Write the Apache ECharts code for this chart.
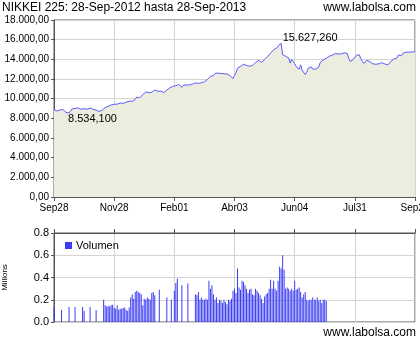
<!DOCTYPE html>
<html><head><meta charset="utf-8">
<script src="https://cdn.jsdelivr.net/npm/echarts@6/dist/echarts.min.js"></script>
<style>html,body{margin:0;padding:0;background:#fff}#c{width:420px;height:340px}</style>
</head><body><div id="c"></div>
<script>
const titleText = 'NIKKEI 225: 28-Sep-2012 hasta 28-Sep-2013';
const siteText = 'www.labolsa.com';
const xTickLabels = ['Sep28', 'Nov28', 'Feb01', 'Abr03', 'Jun04', 'Jul31', 'Sep26'];
const yMax = 18000;
const price = [
8870, 8796, 8746, 8824, 8850, 8863, 8900, 8769, 8596, 8534.1,
8546, 8701, 8950, 8982, 9002, 9010, 9055, 9040, 8933, 9014,
8981, 8940, 8928, 8975, 9040, 8947, 8917, 8840, 8837, 8784,
8701, 8664, 8829, 9024, 9100, 9142, 9222, 9370, 9366, 9458,
9423, 9440, 9446, 9534, 9545, 9490, 9527, 9600, 9640, 9715,
9742, 9724, 9737, 9830, 9923, 10161, 10039, 10100, 10230, 10395,
10395, 10688, 10600, 10609, 10578, 10652, 10840, 10880, 10750, 10750,
10800, 10770, 10710, 10620, 10600, 10870, 10930, 11100, 11190, 11260,
11460, 11310, 11370, 11440, 11380, 11150, 11370, 11300, 11400, 11340,
11390, 11410, 11470, 11530, 11600, 11680, 11560, 11440, 11610, 11650,
11730, 11840, 11940, 12120, 12280, 12370, 12350, 12560, 12380, 12600,
12470, 12560, 12470, 12530, 12440, 12510, 12470, 12340, 12200, 12040,
12360, 12630, 13100, 13190, 13290, 13490, 13500, 13480, 13380, 13220,
13300, 13270, 13380, 13570, 13690, 13840, 13880, 13780, 13690, 13700,
13980, 14180, 14290, 14440, 14620, 14780, 14970, 15090, 15140, 15370,
15380, 15627.26, 14480, 14600, 14310, 14270, 14140, 13620, 13980, 13770,
13560, 13260, 13100, 13010, 13440, 12900, 12880, 12445, 12690, 13100,
13010, 13230, 13010, 13170, 13010, 12840, 13210, 13680, 13850, 13940,
14110, 14100, 14300, 14310, 14440, 14420, 14470, 14590, 14510, 14540,
14620, 14560, 14730, 14660, 14770, 14590, 14050, 13770, 13660, 14000,
14000, 14400, 14340, 14470, 14050, 13820, 13600, 13620, 13900, 13940,
13750, 13650, 13540, 13620, 13500, 13390, 13540, 13600, 13660, 13640,
13520, 13390, 13440, 13570, 13800, 13990, 14040, 13860, 14130, 14440,
14410, 14380, 14620, 14580, 14730, 14700, 14720, 14690, 14760, 14800,
14760
];
const volume = [
0.135, null, null, null, null, 0.11, null, null, null, null,
0.135, null, null, null, 0.135, null, null, null, null, 0.135,
0.10, null, null, null, 0.135, null, null, null, 0.105, null,
null, null, null, 0.2, 0.15, 0.14, 0.145, 0.14, 0.15, 0.155,
0.13, 0.12, 0.15, 0.11, 0.12, 0.12, 0.125, 0.13, 0.11, 0.1,
0.13, 0.22, 0.25, 0.21, 0.27, 0.28, 0.27, 0.26, 0.25, 0.15,
0.21, 0.2, 0.22, 0.21, 0.2, 0.26, 0.27, 0.24, null, null,
0.29, null, null, null, null, 0.22, null, null, 0.2, null,
0.28, 0.35, 0.39, null, null, 0.33, null, null, null, 0.345,
null, null, null, null, 0.25, 0.24, 0.27, 0.2, 0.22, 0.2,
0.2, 0.21, 0.2, 0.37, 0.3, 0.33, 0.25, 0.2, 0.22, 0.17,
0.2, 0.19, 0.17, 0.2, 0.18, 0.16, 0.2, 0.19, 0.21, 0.28,
0.3, 0.26, 0.48, 0.31, 0.29, 0.37, 0.36, 0.33, 0.3, 0.26,
0.29, 0.3, 0.25, 0.24, 0.3, 0.28, 0.26, 0.24, 0.21, 0.17,
0.23, 0.25, 0.26, 0.3, 0.38, 0.3, 0.37, 0.3, 0.28, 0.37,
0.5, 0.48, 0.6, 0.47, 0.3, 0.31, 0.3, 0.28, 0.3, 0.28,
0.37, 0.29, 0.3, 0.31, 0.27, 0.22, 0.25, 0.27, 0.2, 0.19,
0.2, 0.2, 0.22, 0.2, 0.2, 0.22, 0.19, 0.2, 0.17, 0.2,
0.2, 0.19
];

function fmt(v, dec) {
  const s = v.toFixed(dec);
  const parts = s.split('.');
  const intp = parts[0].replace(/\B(?=(\d{3})+(?!\d))/g, '.');
  return dec > 0 ? intp + ',' + parts[1] : intp;
}
let minI = 0, maxI = 0;
price.forEach((v, i) => { if (v < price[minI]) minI = i; if (v > price[maxI]) maxI = i; });

const FONT = 'Liberation Sans, Arial, sans-serif';
const lastIdx = price.length - 1;
const chart = echarts.init(document.getElementById('c'), null, {renderer: 'canvas'});
const txt = {fontSize: 12, lineHeight: 12, fill: '#000', fontFamily: FONT};
chart.setOption({
  animation: false,
  backgroundColor: '#fff',
  textStyle: {fontFamily: FONT},
  graphic: [
    {id: 't1', type: 'text', left: 2, top: 2, style: Object.assign({text: titleText}, txt)},
    {id: 't2', type: 'text', right: 4, top: 2, style: Object.assign({text: siteText}, txt)},
    {id: 't3', type: 'text', right: 4, top: 327, style: Object.assign({text: siteText}, txt)},
    {id: 'ymax', type: 'text', right: 371, top: 15, z: 100,
     style: {text: fmt(yMax, 2), fontSize: 10, lineHeight: 10, fill: '#000', fontFamily: FONT}}
  ],
  legend: {
    data: [{name: 'Volumen', icon: 'rect'}],
    left: 60, top: 235, itemWidth: 7, itemHeight: 7, itemGap: 4,
    textStyle: {fontSize: 11, color: '#000', fontFamily: FONT, padding: [0, 0, 0, -1]}
  },
  grid: [
    {left: 54, right: 5, top: 20, bottom: 143, show: true, borderColor: '#555', borderWidth: 1, backgroundColor: '#fff', containLabel: false, outerBoundsMode: 'none'},
    {left: 54, right: 5, top: 233, bottom: 18, show: true, borderColor: '#555', borderWidth: 1, backgroundColor: '#fff', containLabel: false, outerBoundsMode: 'none'}
  ],
  xAxis: [
    {type: 'value', gridIndex: 0, min: 0, max: lastIdx, interval: 40,
     axisLine: {show: true, onZero: false, lineStyle: {color: '#555'}},
     axisTick: {show: true, length: 4, lineStyle: {color: '#555'}},
     axisLabel: {fontSize: 10, color: '#000', margin: 6, formatter: v => xTickLabels[Math.round(v / 40)] || '', showMaxLabel: true, showMinLabel: true, hideOverlap: false},
     splitLine: {show: true, lineStyle: {color: '#d4d4d4'}}},
    {type: 'value', gridIndex: 1, min: 0, max: lastIdx, interval: 40, position: 'top',
     axisLine: {show: true, onZero: false, lineStyle: {color: '#555'}},
     axisTick: {show: true, length: 4, lineStyle: {color: '#555'}},
     axisLabel: {show: false},
     splitLine: {show: true, lineStyle: {color: '#d4d4d4'}}}
  ],
  yAxis: [
    {type: 'value', gridIndex: 0, min: 0, max: yMax, interval: 2000,
     axisLine: {show: true, lineStyle: {color: '#555'}},
     axisTick: {show: true, length: 3, lineStyle: {color: '#555'}},
     axisLabel: {fontSize: 10, lineHeight: 10, color: '#000', margin: 5, formatter: v => (v >= yMax ? '' : fmt(v, 2)), showMaxLabel: true, showMinLabel: true, hideOverlap: false},
     splitLine: {show: true, lineStyle: {color: '#d4d4d4'}}},
    {type: 'value', gridIndex: 1, min: 0, max: 0.8, interval: 0.2,
     name: 'Millions', nameLocation: 'middle', nameGap: 45, nameRotate: 90,
     nameTextStyle: {fontSize: 8, color: '#000', fontFamily: FONT},
     axisLine: {show: true, lineStyle: {color: '#555'}},
     axisTick: {show: true, length: 3, lineStyle: {color: '#555'}},
     axisLabel: {fontSize: 11, color: '#000', margin: 5, formatter: v => v.toFixed(1), showMaxLabel: true},
     splitLine: {show: true, lineStyle: {color: '#d4d4d4'}}}
  ],
  series: [
    {type: 'line', name: 'NIKKEI', xAxisIndex: 0, yAxisIndex: 0, showSymbol: false, symbol: 'none',
     data: price.map((v, i) => [i, v]),
     lineStyle: {color: '#5c5cff', width: 1},
     areaStyle: {color: '#ececdf', opacity: 1},
     markPoint: {
       symbol: 'circle', symbolSize: 1, itemStyle: {color: 'rgba(0,0,0,0)'},
       data: [
         {coord: [minI, price[minI]], label: {show: true, position: [1, 1], align: 'left', verticalAlign: 'top', fontSize: 11, color: '#000', formatter: () => fmt(price[minI], 3)}},
         {coord: [maxI, price[maxI]], label: {show: true, position: [2, 1], align: 'left', verticalAlign: 'bottom', fontSize: 11, color: '#000', formatter: () => fmt(price[maxI], 3)}}
       ]
     }},
    {type: 'bar', name: 'Volumen', xAxisIndex: 1, yAxisIndex: 1, barWidth: 1,
     data: volume.map((v, i) => [i, v === null ? '-' : v]),
     itemStyle: {color: '#3c3cf5', borderColor: '#000033', borderWidth: 0}}
  ]
});
</script></body></html>
